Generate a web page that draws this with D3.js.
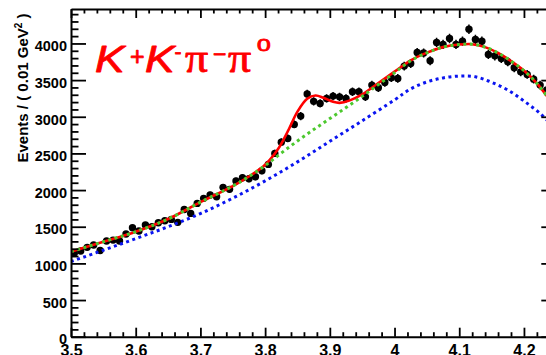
<!DOCTYPE html>
<html>
<head>
<meta charset="utf-8">
<script src="https://cdn.jsdelivr.net/npm/d3@7"></script>
<style>
  html, body { margin: 0; padding: 0; background: #fff; }
  svg { display: block; }
  .tick text { font-family: "Liberation Sans", Arial, sans-serif; font-weight: bold; font-size: 14.5px; fill: #000; }
  .xlab .tick text { font-size: 16px; }
</style>
</head>
<body>
<svg id="chart" width="546" height="355"></svg>
<script>
// K+K-pi-pi0 invariant mass, 0.01 GeV bins
const binCenters = [
  3.505, 3.515, 3.525, 3.535, 3.545, 3.555, 3.565, 3.575, 3.585, 3.595,
  3.605, 3.615, 3.625, 3.635, 3.645, 3.655, 3.665, 3.675, 3.685, 3.695,
  3.705, 3.715, 3.725, 3.735, 3.745, 3.755, 3.765, 3.775, 3.785, 3.795,
  3.805, 3.815, 3.825, 3.835, 3.845, 3.855, 3.865, 3.875, 3.885, 3.895,
  3.905, 3.915, 3.925, 3.935, 3.945, 3.955, 3.965, 3.975, 3.985, 3.995,
  4.005, 4.015, 4.025, 4.035, 4.045, 4.055, 4.065, 4.075, 4.085, 4.095,
  4.105, 4.115, 4.125, 4.135, 4.145, 4.155, 4.165, 4.175, 4.185, 4.195,
  4.205, 4.215, 4.225, 4.235
];
const events = [
  1140, 1168, 1219, 1250, 1175, 1305, 1318, 1305, 1400, 1486,
  1441, 1523, 1500, 1554, 1581, 1600, 1560, 1735, 1682, 1818,
  1887, 1932, 1909, 2037, 2010, 2123, 2168, 2154, 2181, 2263,
  2350, 2500, 2654, 2705, 2896, 3009, 3312, 3210, 3182, 3250,
  3282, 3272, 3250, 3341, 3341, 3272, 3432, 3395, 3468, 3532,
  3523, 3691, 3727, 3877, 3870, 3765, 4014, 3986, 4068, 3986,
  4031, 4195, 4054, 4031, 3850, 3831, 3795, 3750, 3668, 3613,
  3577, 3513, 3432, 3364
];

// total fit (red)
const fitMass = [3.50, 3.55, 3.60, 3.65, 3.70, 3.75, 3.775, 3.80, 3.82, 3.835,
  3.85, 3.865, 3.878, 3.89, 3.905, 3.915, 3.93, 3.95, 3.975, 4.00,
  4.025, 4.05, 4.075, 4.10, 4.12, 4.14, 4.16, 4.18, 4.20, 4.22, 4.24, 4.25];
const fitValues = [1160, 1295, 1432, 1605, 1835, 2055, 2185, 2345, 2560, 2800,
  3070, 3245, 3290, 3260, 3205, 3190, 3220, 3305, 3460, 3615,
  3770, 3875, 3950, 3985, 3990, 3950, 3870, 3760, 3630, 3455, 3230, 3110];

// background without the resonance (green)
const bkgMass = [3.50, 3.55, 3.60, 3.65, 3.70, 3.75, 3.775, 3.80, 3.825, 3.85,
  3.875, 3.90, 3.925, 3.95, 3.975, 4.00, 4.025, 4.05, 4.075, 4.10,
  4.12, 4.14, 4.16, 4.18, 4.20, 4.22, 4.24, 4.25];
const bkgValues = [1160, 1295, 1432, 1605, 1835, 2055, 2185, 2335, 2505, 2670,
  2825, 2975, 3125, 3278, 3440, 3600, 3765, 3872, 3950, 3985,
  3990, 3950, 3870, 3760, 3630, 3455, 3230, 3110];

// smooth component (blue)
const smoothMass = [3.50, 3.55, 3.60, 3.65, 3.70, 3.75, 3.80, 3.85, 3.90, 3.95,
  4.00, 4.025, 4.05, 4.075, 4.10, 4.125, 4.15, 4.175, 4.20, 4.225, 4.25];
const smoothValues = [1025, 1180, 1338, 1500, 1680, 1890, 2125, 2385, 2665, 2945,
  3230, 3380, 3475, 3530, 3555, 3545, 3470, 3365, 3215, 3045, 2820];

const xTicks = [3.5, 3.6, 3.7, 3.8, 3.9, 4.0, 4.1, 4.2];
const xMinorTicks = [3.52, 3.54, 3.56, 3.58, 3.62, 3.64, 3.66, 3.68, 3.72, 3.74, 3.76, 3.78,
  3.82, 3.84, 3.86, 3.88, 3.92, 3.94, 3.96, 3.98, 4.02, 4.04, 4.06, 4.08,
  4.12, 4.14, 4.16, 4.18, 4.22, 4.24];
const yTicks = [0, 500, 1000, 1500, 2000, 2500, 3000, 3500, 4000];
const yMinorTicks = [100, 200, 300, 400, 600, 700, 800, 900, 1100, 1200, 1300, 1400,
  1600, 1700, 1800, 1900, 2100, 2200, 2300, 2400, 2600, 2700, 2800, 2900,
  3100, 3200, 3300, 3400, 3600, 3700, 3800, 3900, 4100, 4200, 4300, 4400];

const svg = d3.select("#chart");
const frame = { left: 71, right: 556.3, top: 9, bottom: 336.7 };

const x = d3.scaleLinear().domain([3.5, 4.25]).range([frame.left, frame.right]);
const y = d3.scaleLinear().domain([0, 4470]).range([frame.bottom, frame.top]);

svg.append("defs").append("clipPath").attr("id", "plotClip")
  .append("rect").attr("x", frame.left).attr("y", frame.top)
  .attr("width", frame.right - frame.left).attr("height", frame.bottom - frame.top);

const plot = svg.append("g").attr("clip-path", "url(#plotClip)");

// data points with statistical errors
const pts = binCenters.map((m, i) => ({ m, n: events[i] }));
const pg = plot.append("g");
pg.selectAll("line.err").data(pts).join("line")
  .attr("class", "err")
  .attr("x1", d => x(d.m)).attr("x2", d => x(d.m))
  .attr("y1", d => y(d.n - Math.sqrt(d.n))).attr("y2", d => y(d.n + Math.sqrt(d.n)))
  .attr("stroke", "#000").attr("stroke-width", 1.5);
pg.selectAll("circle").data(pts).join("circle")
  .attr("cx", d => x(d.m)).attr("cy", d => y(d.n)).attr("r", 3.7)
  .attr("fill", "#000");

const line = d3.line().x(d => x(d[0])).y(d => y(d[1])).curve(d3.curveCatmullRom.alpha(0.5));
const zip = (a, b) => a.map((v, i) => [v, b[i]]);

plot.append("path").datum(zip(smoothMass, smoothValues))
  .attr("d", line).attr("fill", "none")
  .attr("stroke", "#0a14f0").attr("stroke-width", 3).attr("stroke-dasharray", "3,3.5");

plot.append("path").datum(zip(fitMass, fitValues))
  .attr("d", line).attr("fill", "none")
  .attr("stroke", "#ff0000").attr("stroke-width", 2.6);

plot.append("path").datum(zip(bkgMass, bkgValues))
  .attr("d", line).attr("fill", "none")
  .attr("stroke", "#4cc82e").attr("stroke-width", 3).attr("stroke-dasharray", "3,3.5");

// axes: ticks drawn inward on all four sides
const fmt = d3.format("~g");
function styleAxis(g) {
  g.selectAll("path.domain").attr("stroke", "#000").attr("stroke-width", 2);
  g.selectAll(".tick line").attr("stroke", "#000").attr("stroke-width", 1.8);
}

svg.append("g").attr("class", "xlab").attr("transform", `translate(0,${frame.bottom})`)
  .call(d3.axisBottom(x).tickValues(xTicks).tickFormat(fmt).tickSizeInner(-9).tickSizeOuter(0).tickPadding(7.5))
  .call(styleAxis);
svg.append("g").attr("transform", `translate(0,${frame.bottom})`)
  .call(d3.axisBottom(x).tickValues(xMinorTicks).tickFormat("").tickSizeInner(-4.5).tickSizeOuter(0))
  .call(g => g.select("path.domain").remove()).call(styleAxis);

svg.append("g").attr("transform", `translate(0,${frame.top})`)
  .call(d3.axisTop(x).tickValues(xTicks).tickFormat("").tickSizeInner(-9).tickSizeOuter(0))
  .call(styleAxis);
svg.append("g").attr("transform", `translate(0,${frame.top})`)
  .call(d3.axisTop(x).tickValues(xMinorTicks).tickFormat("").tickSizeInner(-4.5).tickSizeOuter(0))
  .call(g => g.select("path.domain").remove()).call(styleAxis);

svg.append("g").attr("transform", `translate(${frame.left},0)`)
  .call(d3.axisLeft(y).tickValues(yTicks).tickFormat(d3.format("d")).tickSizeInner(-15).tickSizeOuter(0).tickPadding(4))
  .call(styleAxis)
  .call(g => g.selectAll(".tick text").attr("dy", "0.5em"));
svg.append("g").attr("transform", `translate(${frame.left},0)`)
  .call(d3.axisLeft(y).tickValues(yMinorTicks).tickFormat("").tickSizeInner(-7.5).tickSizeOuter(0))
  .call(g => g.select("path.domain").remove()).call(styleAxis);

svg.append("g").attr("transform", `translate(${frame.right},0)`)
  .call(d3.axisRight(y).tickValues(yTicks).tickFormat("").tickSizeInner(-15).tickSizeOuter(0))
  .call(styleAxis);
svg.append("g").attr("transform", `translate(${frame.right},0)`)
  .call(d3.axisRight(y).tickValues(yMinorTicks).tickFormat("").tickSizeInner(-7.5).tickSizeOuter(0))
  .call(g => g.select("path.domain").remove()).call(styleAxis);

// y-axis title
const yt = svg.append("text")
  .attr("transform", "translate(27.5,88) rotate(-90)")
  .attr("text-anchor", "middle")
  .attr("font-family", "Liberation Sans, Arial, sans-serif")
  .attr("font-weight", "bold").attr("font-size", 15).attr("fill", "#000");
yt.append("tspan").text("Events / ( 0.01 GeV");
yt.append("tspan").attr("dy", -6).attr("font-size", 10).text("2");
yt.append("tspan").attr("dy", 6).text(" )");

// decay channel label
const title = svg.append("g").attr("fill", "#ff0000")
  .attr("stroke", "#ff0000").attr("stroke-width", 0.8).attr("stroke-linejoin", "round");
const pieces = [
  { t: "K", x: 95, y: 71.7, s: 37, f: "Liberation Sans", st: "italic", k: 1.2 },
  { t: "+", x: 130, y: 64.5, s: 25, f: "Liberation Sans", st: "normal", k: 1 },
  { t: "K", x: 145, y: 71.7, s: 37, f: "Liberation Sans", st: "italic", k: 1.2 },
  { t: "-", x: 174.5, y: 58.5, s: 21, f: "Liberation Sans", st: "normal", k: 1 },
  { t: "π", x: 185, y: 71.7, s: 40, f: "Liberation Serif", st: "normal", k: 1.15 },
  { t: "−", x: 213, y: 62, s: 23, f: "Liberation Sans", st: "normal", k: 1 },
  { t: "π", x: 228, y: 71.7, s: 40, f: "Liberation Serif", st: "normal", k: 1.15 },
  { t: "0", x: 257, y: 50.5, s: 17, f: "Liberation Sans", st: "normal", k: 1.45 }
];
pieces.forEach(p => {
  title.append("text")
    .attr("transform", `translate(${p.x},${p.y}) scale(${p.k},1)`)
    .attr("font-family", p.f).attr("font-style", p.st).attr("font-size", p.s)
    .text(p.t);
});
</script>
</body>
</html>
